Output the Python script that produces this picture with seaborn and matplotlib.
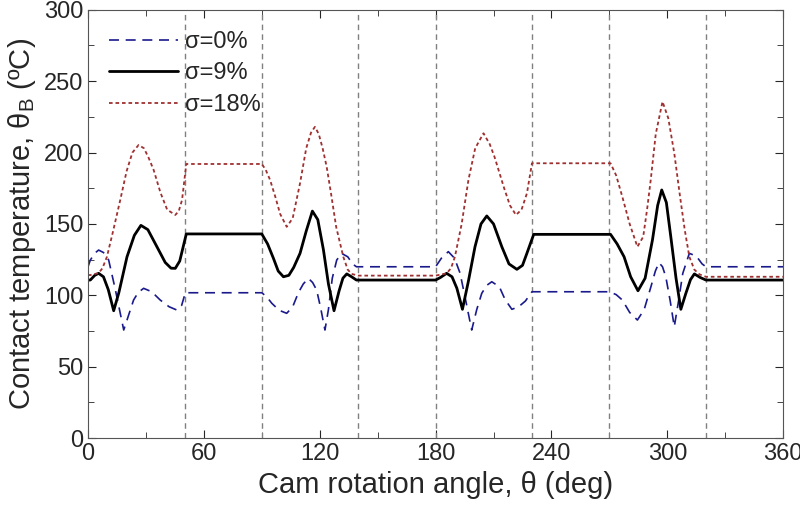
import numpy as np
import pandas as pd
import seaborn as sns
import matplotlib.pyplot as plt
from matplotlib.ticker import MultipleLocator

# values (deg, degC)
angle_0 = [0, 1.2, 3.5, 5.5, 8, 10.7, 14, 18.5, 21, 23.6, 26, 28.8, 33, 37.4, 42, 46, 48.5, 50.4,
           90, 92.5, 95.2, 99, 102.9, 106, 109, 111.5, 114.1, 116.3, 118.4, 120.5, 122.7, 124.5, 126.5, 128.8,
           131.3, 134.5, 137, 139, 180, 183, 186.6, 189.8, 192.7, 195.8, 198.7, 201.3, 203.9, 206.5, 209.1,
           213, 216, 219.5, 223, 226.5, 229.9, 270, 273.5, 276.7, 280.5, 284.5, 288, 291.5, 293.8, 295.7,
           297.5, 299.2, 301.5, 303.6, 305.8, 308, 311.4, 315, 318, 320, 360]
temp_0 = [120, 124.7, 129.5, 131.7, 130, 124.7, 105, 75.7, 86, 96.7, 102, 104.9, 102.5, 96.7, 92, 89.7, 93, 101.8,
          101.8, 99, 94.4, 89.5, 87.4, 92, 102, 108, 111.9, 109, 103.7, 91, 75.7, 90, 112, 124.7,
          129.4, 127, 122, 120, 120, 126, 130.6, 126, 115.4, 95, 75.7, 90, 101.4, 107, 109.5,
          106, 97, 90.2, 92, 96, 102.5, 102.5, 100.5, 96.7, 88, 82.7, 90, 106, 117, 122.9,
          120, 113, 96, 78, 96, 115.4, 129.4, 127.5, 122, 120, 120]

angle_9 = [0, 1.2, 3.5, 5.5, 8, 10.5, 13.3, 16, 20.2, 24, 27.4, 31, 35.7, 40, 43, 45.2, 47.5, 50.9,
           90, 93, 96, 98.5, 101.2, 104, 106.5, 109.8, 113, 116.2, 119, 121.9, 124.5, 127.4, 130, 132, 134,
           136.5, 139, 180, 182.5, 185.7, 188.5, 191, 193.9, 197, 200.4, 203.5, 206.5, 210, 214.3, 218, 222.1,
           225, 227.3, 230.8, 270.6, 274, 277.6, 281, 284.8, 288.5, 292.3, 295, 297.1, 299.5, 301.8, 304.5, 307,
           309.5, 312, 314, 317, 320, 360]
temp_9 = [110.7, 110.7, 114, 115.4, 113, 104, 89.2, 102, 127, 142, 149, 146, 134, 123, 119, 118.9, 124, 143,
          143, 136, 126, 117, 113, 114, 119.5, 129.4, 145, 159, 153, 132, 108, 89.2, 103, 112, 115,
          113, 110.7, 110.7, 112.5, 115.4, 113, 105, 90.2, 110, 134, 150, 155.6, 150, 134, 122, 118.2,
          121, 129.5, 142.7, 142.7, 136, 127, 113, 103.2, 112, 138.8, 163, 173.8, 165, 141, 112, 90.2,
          101, 111, 115, 112.5, 110.7, 110.7]

angle_18 = [0, 1.2, 5.5, 7.5, 9.8, 13, 16.7, 20, 23, 26.2, 29, 31.5, 34, 37.5, 41, 45.2, 47, 48.7, 50.9,
            90, 92, 94.3, 97, 99.5, 102.9, 106, 109.8, 113, 115.5, 117.5, 119.5, 121.5, 123.6, 126, 128.5,
            132.2, 134.5, 136.5, 140, 180, 182.5, 185.7, 188, 190, 193.5, 197, 200.5, 204.8, 208, 210.5, 212.6,
            215.5, 218.5, 221.6, 224.5, 227.3, 229.9, 270.6, 273.5, 276.7, 280.5, 284.5, 287.5, 289.5, 291.4,
            294, 297.5, 300.5, 303.6, 306.5, 309, 311.4, 314, 316.6, 320, 360]
temp_18 = [114.2, 114.2, 115.6, 119, 127, 145, 166.8, 187, 200, 205.3, 203, 196, 187.8, 172, 160, 156.3, 159, 166.8, 192,
           192, 188, 180.8, 169, 157, 148, 154, 178.5, 203, 214, 218, 213, 203, 190, 170, 148,
           127, 118, 115, 113.8, 113.8, 114.5, 115.4, 119, 127, 150, 180.8, 203, 213.5, 206, 197, 187.8,
           175, 163, 156.3, 160, 171.5, 192.5, 192.5, 184, 169, 150, 134, 141, 160, 180.8,
           213, 235.7, 224, 199.5, 170, 146, 127, 118, 114.7, 113, 113]

phase_lines = [50, 90, 140, 180, 230, 270, 320]
labels = ["σ=0%", "σ=9%", "σ=18%"]

sns.set_style("ticks")
plt.rcParams["font.family"] = ["Liberation Sans", "DejaVu Sans"]

fig = plt.figure(figsize=(8, 5.16), dpi=100)
ax = fig.add_axes([0.110, 0.151, 0.869, 0.830])

for xv in phase_lines:
    ax.axvline(xv, color="#808080", linestyle=(0, (4, 3)), linewidth=1, zorder=1)

df0 = pd.DataFrame({"angle": angle_0, "temp": temp_0})
df9 = pd.DataFrame({"angle": angle_9, "temp": temp_9})
df18 = pd.DataFrame({"angle": angle_18, "temp": temp_18})

sns.lineplot(data=df0, x="angle", y="temp", ax=ax, color="#1a1a8c", linewidth=1.2,
             linestyle=(0, (6, 4)), label=labels[0])
sns.lineplot(data=df9, x="angle", y="temp", ax=ax, color="black", linewidth=2.0,
             label=labels[1])
sns.lineplot(data=df18, x="angle", y="temp", ax=ax, color="#a03030", linewidth=1.3,
             linestyle=(0, (2, 1.6)), label=labels[2])

ax.set_xlim(0, 360)
ax.set_ylim(0, 300)
ax.xaxis.set_major_locator(MultipleLocator(60))
ax.xaxis.set_minor_locator(MultipleLocator(30))
ax.yaxis.set_major_locator(MultipleLocator(50))
ax.yaxis.set_minor_locator(MultipleLocator(25))
ax.tick_params(which="both", direction="in", top=True, right=True, labelsize=17)
ax.tick_params(which="major", length=6)
ax.tick_params(which="minor", length=4)
for s in ax.spines.values():
    s.set_color("#555555")

ax.set_xlabel("Cam rotation angle, θ (deg)", fontsize=21, labelpad=4)
ax.set_ylabel("Contact temperature, θ$_\\mathregular{B}$ (ºC)", fontsize=21, labelpad=4)

leg = ax.legend(loc="upper left", frameon=False, fontsize=17, handlelength=2.9,
                borderaxespad=0.5, labelspacing=0.4, handletextpad=0.3)

fig.savefig("out.png", dpi=100)
plt.close(fig)
